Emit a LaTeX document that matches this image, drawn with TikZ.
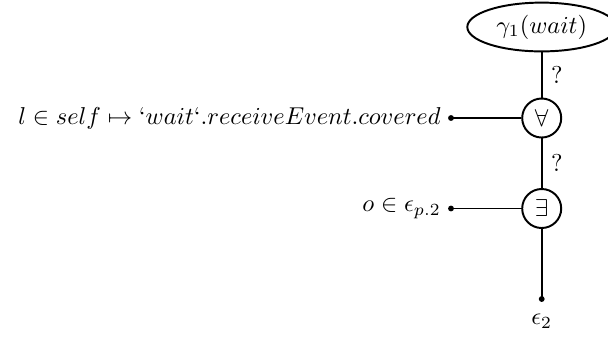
\documentclass[tikz,border=0pt]{standalone}
\usetikzlibrary{calc,shapes.geometric}

\tikzset{
  goal/.style={draw,ellipse,line width=0.8pt,minimum width=61pt,minimum height=20pt,inner sep=1pt},
  quant/.style={draw,circle,line width=0.8pt,minimum size=16pt,inner sep=1pt},
  edge/.style={line width=0.8pt},
  qmark/.style={right,inner sep=3.5pt}
}

\begin{document}
\begin{tikzpicture}[x=0.41pt,y=-0.41pt]
\useasboundingbox (0,0) rectangle (608,343);

% goal and quantifiers
\node[goal] (G) at (541.7,27) {$\gamma_1(wait)$};
\node[quant] (A) at (541.7,118) {$\forall$};
\node[quant] (E) at (541.7,208.5) {$\exists$};

\coordinate (L1) at (451,118);
\coordinate (L2) at (451,208.5);
\coordinate (D) at (541.7,299);

% spine
\draw[edge] (G) -- node[qmark] {?} (A);
\draw[edge] (A) -- node[qmark] {?} (E);
\draw[edge] (E) -- (D);

% bindings
\draw[edge] (A) -- (L1);
\draw[edge] (E) -- (L2);

\fill (L1) circle (1.2pt);
\fill (L2) circle (1.2pt);
\fill (D) circle (1.2pt);

\node[left,inner sep=4pt] (T1) at (L1) {$l \in self \mapsto `wait`.receiveEvent.covered$};
\node[left,inner sep=4pt] (T2) at (L2) {$o \in \epsilon_{p.2}$};
\node[below,inner sep=6pt] (T3) at (D) {$\epsilon_2$};

\end{tikzpicture}
\end{document}
